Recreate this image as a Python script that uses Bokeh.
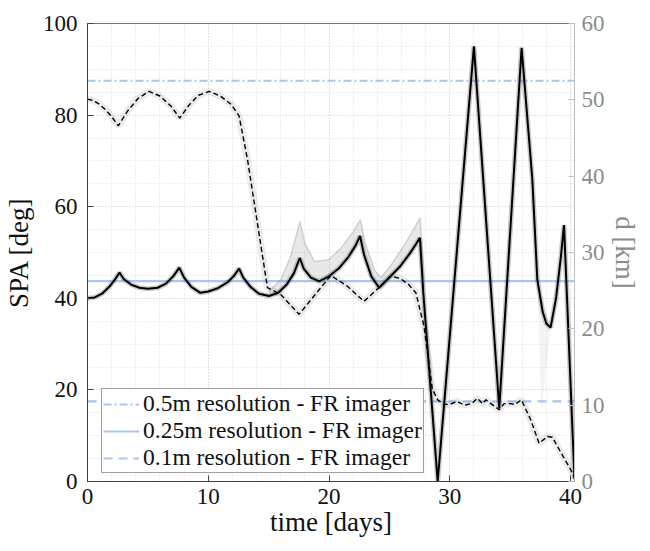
from bokeh.plotting import figure
from bokeh.models import Range1d, LinearAxis, SingleIntervalTicker, Legend, LegendItem
from bokeh.embed import file_html
from bokeh.resources import INLINE

# ---------------- data ----------------
X_LIM = (0.0, 40.33)
SPA_LIM = (0.0, 100.0)
D_LIM = (0.0, 60.0)

# solar phase angle [deg] (solid black, left axis)
t_spa = [0, 0.6, 1.2, 1.8, 2.3, 2.65, 3.0, 3.6, 4.3, 5.0, 5.8, 6.5, 7.1, 7.6, 8.0, 8.6,
         9.35, 10.0, 10.8, 11.6, 12.1, 12.55, 12.9, 13.5, 14.2, 15.04, 15.8, 16.5, 17.1,
         17.58, 17.9, 18.5, 19.18, 20.0, 20.8, 21.6, 22.2, 22.57, 22.9, 23.5, 24.15,
         25.1, 25.9, 26.7, 27.2, 27.53, 27.8, 29.0, 32.0, 34.1, 35.95, 36.84, 37.25,
         37.7, 38.0, 38.35, 38.8, 39.2, 39.46, 40.33]
spa = [40.0, 40.2, 41.0, 42.5, 44.2, 45.6, 44.2, 43.0, 42.3, 42.1, 42.3, 43.2, 44.8,
       46.7, 44.5, 42.5, 41.2, 41.5, 42.2, 43.5, 44.8, 46.5, 44.5, 42.5, 41.0, 40.5,
       41.2, 43.0, 45.5, 48.8, 46.5, 44.5, 43.7, 44.8, 46.5, 49.0, 51.5, 53.6, 49.5,
       44.8, 42.3, 44.8, 47.0, 49.8, 51.8, 53.2, 41.5, 0.0, 95.0, 16.0, 94.7, 65.9,
       44.1, 37.0, 34.5, 33.6, 40.0, 49.0, 56.0, 0.5]

# upper edge of the SPA ensemble where the spread is wide
t_spa_up = [15.0, 16.0, 16.8, 17.6, 18.0, 18.8, 20.0, 21.0, 22.0, 22.6, 23.0, 23.8,
            24.3, 25.2, 26.2, 27.0, 27.55, 27.9]
spa_up = [41.5, 44.0, 49.0, 56.8, 52.0, 48.0, 48.5, 51.0, 54.5, 57.2, 52.0, 46.0,
          44.5, 47.5, 51.5, 55.0, 57.6, 42.0]

# faint lower fan of the SPA ensemble near day 37-38
t_fan = [37.25, 37.6, 38.35]
spa_fan = [44.1, 15.0, 33.6]

# distance [km] (dashed black, right axis)
t_d = [0, 0.5, 1.0, 1.5, 2.0, 2.55, 3.3, 4.2, 5.1, 6.0, 6.9, 7.64, 8.4, 9.2, 10.07,
       11.0, 11.9, 12.55, 13.25, 14.9, 16.0, 17.52, 20.15, 21.5, 22.9, 24.0, 25.1,
       25.9, 26.6, 27.2, 27.87, 28.56, 29.0, 29.5, 30.0, 30.6, 31.2, 31.8, 32.3, 32.7,
       33.0, 33.5, 34.1, 34.5, 35.0, 35.4, 35.93, 36.7, 37.4, 38.1, 38.5, 39.2, 40.0,
       40.33]
d = [50.1, 49.9, 49.4, 48.7, 47.8, 46.6, 48.5, 50.2, 51.1, 50.5, 49.2, 47.6, 49.3,
     50.6, 51.1, 50.5, 49.4, 47.9, 42.2, 25.4, 24.5, 21.9, 27.0, 25.6, 23.6, 25.2,
     26.9, 26.6, 25.8, 24.7, 20.3, 12.1, 10.7, 10.1, 10.1, 10.5, 10.0, 10.2, 10.9,
     10.2, 10.7, 10.1, 9.4, 10.2, 10.2, 10.1, 10.7, 8.1, 5.0, 5.9, 5.8, 3.8, 1.6, 0.5]

# imager resolution thresholds [km]
res_labels = ["0.5m resolution - FR imager", "0.25m resolution - FR imager",
              "0.1m resolution - FR imager"]
res_d = [52.5, 26.25, 10.5]
res_dash = ["8 3 2 3", "solid", "9 6"]

# ---------------- figure ----------------
SERIF = "Liberation Serif"
BLUE = "#a9c5f0"
GRAY_AX = "#8c8c8c"

p = figure(frame_width=487, frame_height=458, output_backend="svg", toolbar_location=None,
           x_range=Range1d(*X_LIM), y_range=Range1d(*SPA_LIM),
           min_border_left=84, min_border_right=63, min_border_top=23,
           min_border_bottom=54, x_axis_label="time [days]", y_axis_label="SPA [deg]")
p.extra_y_ranges = {"d": Range1d(*D_LIM)}
p.outline_line_color = "#777777"
p.background_fill_color = "white"
p.border_fill_color = "white"

p.xaxis.ticker = SingleIntervalTicker(interval=10, num_minor_ticks=5)
p.yaxis.ticker = SingleIntervalTicker(interval=20, num_minor_ticks=4)

for ax in (p.xaxis[0], p.yaxis[0]):
    ax.axis_line_color = "#404040"
    ax.major_tick_line_color = "#404040"
    ax.major_tick_in = 6
    ax.major_tick_out = 0
    ax.minor_tick_line_color = None
    ax.major_label_text_font = SERIF
    ax.major_label_text_font_size = "23px"
    ax.major_label_text_color = "#111111"
    ax.axis_label_text_font = SERIF
    ax.axis_label_text_font_size = "27px"
    ax.axis_label_text_font_style = "normal"
    ax.axis_label_text_color = "#111111"
p.xaxis.major_label_standoff = 3
p.xaxis.axis_label_standoff = 0
p.yaxis.major_label_standoff = 6
p.yaxis.axis_label_standoff = 6

# right axis for distance
rax = LinearAxis(y_range_name="d", axis_label="d [km]",
                 ticker=SingleIntervalTicker(interval=10, num_minor_ticks=0))
rax.axis_line_color = "#c0c0c0"
rax.major_tick_line_color = "#c0c0c0"
rax.major_tick_in = 6
rax.major_tick_out = 0
rax.minor_tick_line_color = None
rax.major_label_text_font = SERIF
rax.major_label_text_font_size = "23px"
rax.major_label_text_color = GRAY_AX
rax.major_label_standoff = 7
rax.axis_label_text_font = SERIF
rax.axis_label_text_font_size = "27px"
rax.axis_label_text_font_style = "normal"
rax.axis_label_text_color = GRAY_AX
rax.axis_label_standoff = 2
p.add_layout(rax, "right")

# grid
for g in (p.xgrid[0], p.ygrid[0]):
    g.grid_line_color = "#d4d4d4"
    g.grid_line_dash = "1 2"
    g.grid_line_width = 1
    g.minor_grid_line_color = "#dcdcdc"
    g.minor_grid_line_dash = "1 2"
    g.minor_grid_line_width = 1

# resolution threshold lines (right axis)
items = []
for lab, val, dash in zip(res_labels, res_d, res_dash):
    r = p.line(x=[X_LIM[0], X_LIM[1]], y=[val, val], y_range_name="d",
               line_color=BLUE, line_width=2.2, line_dash=dash)
    items.append(LegendItem(label=lab, renderers=[r]))

# ensemble spread: band between nominal SPA and its upper edge
lo, hi = t_spa_up[0], t_spa_up[-1]
band_t = [t for t in t_spa if lo <= t <= hi]
band_v = [v for t, v in zip(t_spa, spa) if lo <= t <= hi]
p.patch(t_spa_up + band_t[::-1], spa_up + band_v[::-1], fill_color="#707070",
        fill_alpha=0.16, line_color=None)
p.line(t_spa_up, spa_up, line_color="#808080", line_width=1.5, line_alpha=0.3)
p.patch(t_fan, spa_fan, fill_color="#909090", fill_alpha=0.10, line_color=None)

p.line(t_d, d, y_range_name="d", line_color="#808080", line_width=7, line_alpha=0.16)
p.line(t_spa, spa, line_color="#505050", line_width=5, line_alpha=0.3)

# nominal curves
p.line(t_spa, spa, line_color="black", line_width=2)
p.line(t_d, d, y_range_name="d", line_color="black", line_width=1.4, line_dash="5 3")

legend = Legend(items=items, location=(14, 8))
legend.label_text_font = SERIF
legend.label_text_font_size = "23.5px"
legend.label_text_color = "#111111"
legend.glyph_width = 36
legend.glyph_height = 20
legend.label_height = 20
legend.label_standoff = 4
legend.spacing = 0
legend.padding = 1
legend.margin = 0
legend.border_line_color = "#444444"
legend.border_line_width = 1
legend.background_fill_color = "white"
legend.background_fill_alpha = 1
p.add_layout(legend, "center")

open("out.html", "w").write(file_html(p, INLINE))
